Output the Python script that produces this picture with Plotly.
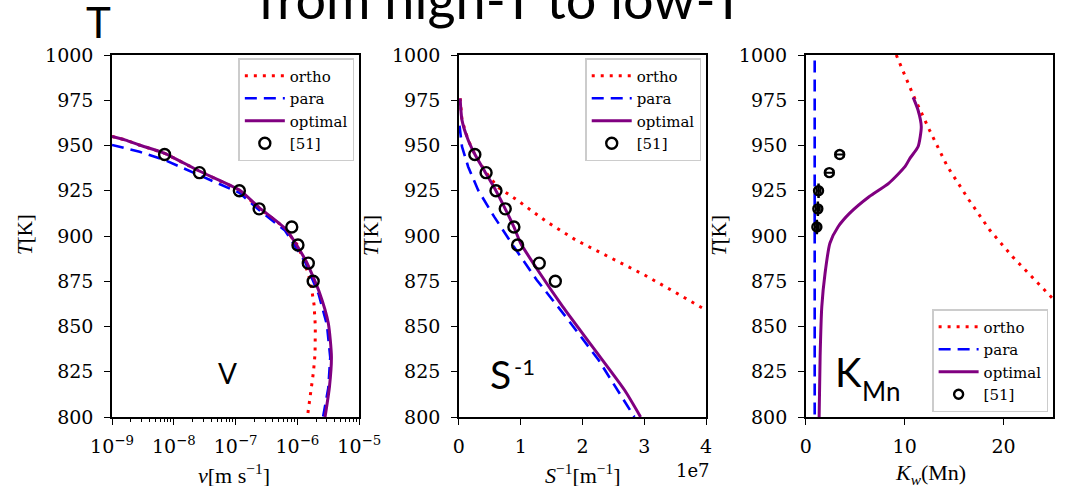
import plotly.graph_objects as go

W, H = 1078, 486
ML, MR, MT, MB = 112, 3, 55, 69
PW, PH = W - ML - MR, H - MT - MB

def px(x):
    return (x - ML) / PW

def py(y):
    return (H - MB - y) / PH

# ---------------- data ----------------
# panel 1: growth velocity v [m/s]
v_T_opt = [955, 953, 950.3, 945.7, 935.9, 925.4, 915.7, 903.7, 886.7, 868.3, 851.8, 833.3, 816.7, 800]
v_opt = [1.0e-9, 1.66e-9, 2.75e-9, 7.1e-9, 2.57e-8, 1.15e-7, 2.4e-7, 6.5e-7, 1.35e-6, 2.3e-6, 3.16e-6, 3.55e-6, 3.3e-6, 2.8e-6]
v_T_para = [950.3, 946.5, 942, 933.7, 923.9, 914.4, 903, 886, 868, 851, 833, 816, 800]
v_para = [1.0e-9, 2.8e-9, 7.1e-9, 2.57e-8, 1.15e-7, 2.4e-7, 6.3e-7, 1.32e-6, 2.2e-6, 3.0e-6, 3.4e-6, 3.16e-6, 2.6e-6]
v_T_ortho = [955, 953, 950.3, 945.7, 935.9, 925.4, 915.7, 905, 895, 885, 875, 862, 850, 835, 825, 812, 800]
v_ortho = [1.0e-9, 1.66e-9, 2.75e-9, 7.1e-9, 2.57e-8, 1.15e-7, 2.35e-7, 6.0e-7, 1.0e-6, 1.32e-6, 1.62e-6, 1.86e-6, 1.95e-6, 1.93e-6, 1.82e-6, 1.62e-6, 1.45e-6]
v_T_exp = [945, 935, 925, 915, 905, 895, 885, 875]
v_exp = [7.1e-9, 2.6e-8, 1.15e-7, 2.4e-7, 8.1e-7, 1.02e-6, 1.5e-6, 1.8e-6]

# panel 2: inverse spacing S^-1 [1/m]
s_T_opt = [976, 964, 953, 945, 935, 925, 915, 905, 896, 879.4, 861, 838.9, 814.9, 800]
s_opt = [0.02e7, 0.05e7, 0.15e7, 0.26e7, 0.43e7, 0.60e7, 0.75e7, 0.89e7, 1.0e7, 1.31e7, 1.68e7, 2.16e7, 2.68e7, 2.94e7]
s_T_para = [961, 949.4, 938.3, 925.4, 910.7, 894, 875.7, 855.4, 831.5, 800]
s_para = [0.01e7, 0.05e7, 0.15e7, 0.31e7, 0.57e7, 0.89e7, 1.26e7, 1.73e7, 2.26e7, 2.84e7]
s_T_ortho = [976, 964, 953, 945, 935, 927, 919.9, 907.9, 897.8, 888.6, 878.5, 868.3, 858]
s_ortho = [0.02e7, 0.05e7, 0.15e7, 0.26e7, 0.44e7, 0.63e7, 0.94e7, 1.42e7, 1.89e7, 2.42e7, 3.0e7, 3.53e7, 4.05e7]
s_T_exp = [945, 935, 925, 915, 905, 895, 885, 875]
s_exp = [0.258e7, 0.44e7, 0.60e7, 0.75e7, 0.89e7, 0.95e7, 1.30e7, 1.56e7]

# panel 3: partition coefficient K_w(Mn)
k_T_opt = [976.6, 969.6, 960.4, 949.3, 942.9, 938.3, 929.1, 921.7, 912.5, 905.1, 896, 879.4, 861, 833.3, 800]
k_opt = [10.86, 11.35, 11.68, 11.35, 10.53, 10.03, 8.38, 6.40, 4.42, 3.27, 2.44, 1.95, 1.62, 1.45, 1.35]
k_T_para = [997, 950, 900, 850, 800]
k_para = [0.9, 0.9, 0.9, 0.9, 0.9]
k_T_ortho = [1000, 977.9, 958.6, 938.3, 919.9, 903.3, 888.6, 872.9, 865]
k_ortho = [9.15, 10.86, 12.5, 14.33, 16.5, 18.6, 20.9, 23.6, 25.05]
k_T_exp = [905, 915, 925, 935, 945]
k_exp = [1.12, 1.22, 1.29, 2.38, 3.43]
k_exp_xerr = [0.2, 0.2, 0.2, 0.4, 0.4]
k_exp_yerr = [4, 4, 4, 0, 0]

y_ticks = [800, 825, 850, 875, 900, 925, 950, 975, 1000]
v_ticks = [1e-9, 1e-8, 1e-7, 1e-6, 1e-5]
v_ticktext = ["10<sup>−9</sup>", "10<sup>−8</sup>", "10<sup>−7</sup>", "10<sup>−6</sup>", "10<sup>−5</sup>"]
s_ticks = [0, 1e7, 2e7, 3e7, 4e7]
s_ticktext = ["0", "1", "2", "3", "4"]
k_ticks = [0, 10, 20]

# ---------------- styles ----------------
RED, BLUE, PURPLE = "#ff0000", "#0000ff", "#800080"
DOT = "3px,6px"
DASH = "12px,7px"
SERIF = "DejaVu Serif"
TIMES = "Liberation Serif"

fig = go.Figure()

def add_panel(n, xo, yo, xp, yp, xpu, ypu, xe, ye, legend, msize, err=None):
    xa = "x" if n == 1 else f"x{n}"
    ya = "y" if n == 1 else f"y{n}"
    fig.add_trace(go.Scatter(x=xo, y=yo, mode="lines", name="ortho", xaxis=xa, yaxis=ya,
                             line=dict(color=RED, width=3, dash=DOT), legend=legend))
    fig.add_trace(go.Scatter(x=xp, y=yp, mode="lines", name="para", xaxis=xa, yaxis=ya,
                             line=dict(color=BLUE, width=2.6, dash=DASH), legend=legend))
    fig.add_trace(go.Scatter(x=xpu, y=ypu, mode="lines", name="optimal", xaxis=xa, yaxis=ya,
                             line=dict(color=PURPLE, width=3, shape="spline", smoothing=0.6), legend=legend))
    kw = {}
    if err is not None:
        kw["error_x"] = dict(type="data", array=err[0], color="black", thickness=2, width=3)
        kw["error_y"] = dict(type="data", array=err[1], color="black", thickness=2.5, width=0)
    fig.add_trace(go.Scatter(x=xe, y=ye, mode="markers", name="[51]", xaxis=xa, yaxis=ya,
                             marker=dict(symbol="circle-open", size=msize, color="black",
                                         line=dict(width=2.4, color="black")),
                             legend=legend, **kw))

add_panel(1, v_ortho, v_T_ortho, v_para, v_T_para, v_opt, v_T_opt, v_exp, v_T_exp, "legend", 11)
add_panel(2, s_ortho, s_T_ortho, s_para, s_T_para, s_opt, s_T_opt, s_exp, s_T_exp, "legend2", 11)
add_panel(3, k_ortho, k_T_ortho, k_para, k_T_para, k_opt, k_T_opt, k_exp, k_T_exp, "legend3", 9,
          err=(k_exp_xerr, k_exp_yerr))

tickfont = dict(family=SERIF, size=19, color="black")
common_axis = dict(showline=True, linecolor="black", linewidth=1.5, mirror=True,
                   ticks="outside", ticklen=6, tickwidth=1.3, tickcolor="black",
                   showgrid=False, zeroline=False, tickfont=tickfont)

domains = [(px(112), px(365)), (px(467), px(720)), (px(822), px(1075))]

minor_v = [k * 10.0 ** e for e in range(-9, -5) for k in range(2, 10)]

layout = dict(
    width=W, height=H, margin=dict(l=ML, r=MR, t=MT, b=MB),
    paper_bgcolor="white", plot_bgcolor="white", showlegend=True,
    xaxis=dict(domain=domains[0], type="log", range=[-9, -5], tickvals=v_ticks, ticktext=v_ticktext,
               anchor="y", ticklabelstandoff=5,
               minor=dict(tickvals=minor_v, ticks="outside", ticklen=3.5, tickwidth=1, tickcolor="black"),
               **common_axis),
    yaxis=dict(domain=[0, 1], range=[800, 1000], tickvals=y_ticks, anchor="x", ticklabelstandoff=7, **common_axis),
    xaxis2=dict(domain=domains[1], range=[0, 4e7], tickvals=s_ticks, ticktext=s_ticktext, anchor="y2",
                ticklabelstandoff=5, **common_axis),
    yaxis2=dict(domain=[0, 1], range=[800, 1000], tickvals=y_ticks, anchor="x2", ticklabelstandoff=7, **common_axis),
    xaxis3=dict(domain=domains[2], range=[0, 25], tickvals=k_ticks, anchor="y3", ticklabelstandoff=5, **common_axis),
    yaxis3=dict(domain=[0, 1], range=[800, 1000], tickvals=y_ticks, anchor="x3", ticklabelstandoff=7, **common_axis),
)

legfont = dict(family=SERIF, size=15, color="black")
legstyle = dict(font=legfont, bgcolor="rgba(255,255,255,0.85)", bordercolor="#cccccc", borderwidth=1.5,
                xanchor="right", yanchor="top", itemwidth=40, tracegroupgap=0)
layout["legend"] = dict(x=px(360), y=py(58), **legstyle)
layout["legend2"] = dict(x=px(715), y=py(58), **legstyle)
layout["legend3"] = dict(x=px(1070), y=py(309), **legstyle)
fig.update_layout(**layout)

SANS = "Lato"
ann = []
def A(text, x, y, size, family=SANS, angle=0, xanchor="center"):
    ann.append(dict(text=text, x=px(x), y=py(y), xref="paper", yref="paper", showarrow=False,
                    xanchor=xanchor, yanchor="middle", textangle=angle,
                    font=dict(family=family, size=size, color="black")))

A("from high-T to low-T", 510, -2, 54)
A("T", 98, 22, 42)
A("V", 230, 373, 28)
A("S", 510, 374, 39)
A("-1", 534, 366, 22)
A("K", 866, 372, 40)
A("Mn", 899, 391, 26)
for xl in (23, 377, 733):
    A("<i>T</i>[K]", xl, 235, 21, family=TIMES, angle=-90)
A("<i>v</i>[m s<sup>−1</sup>]", 237, 474, 22, family=TIMES)
A("<i>S</i><sup>−1</sup>[m<sup>−1</sup>]", 594, 474, 22, family=TIMES)
A("1e7", 707, 470, 18, family=SERIF)
A("<i>K<sub>w</sub></i>(Mn)", 950, 474, 22, family=TIMES)
fig.update_layout(annotations=ann)

fig.write_html("out.html")
